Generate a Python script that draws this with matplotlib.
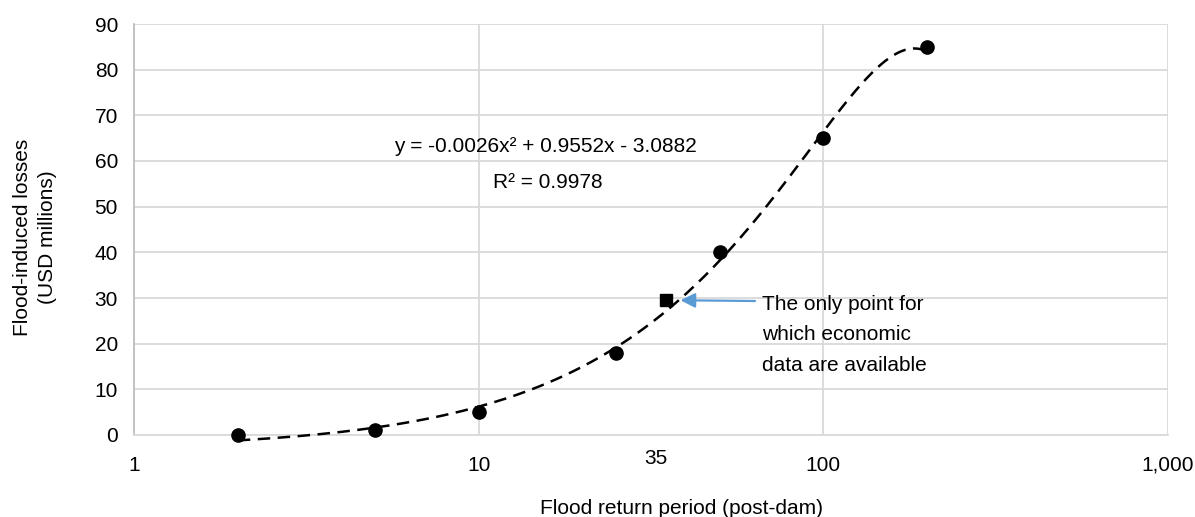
import numpy as np
import matplotlib.pyplot as plt

plt.rcParams['font.family'] = ['Liberation Sans', 'DejaVu Sans']

# Flood return periods (years) and modelled losses (USD millions)
return_periods = [2, 5, 10, 25, 50, 100, 200]
losses = [0, 1, 5, 18, 40, 65, 85]

# The single observation backed by economic data
econ_period = [35]
econ_loss = [29.5]

# Quadratic trendline coefficients (a*x^2 + b*x + c)
coef_a, coef_b, coef_c = -0.0026, 0.9552, -3.0882
r_squared = 0.9978

x_ticks = [1, 10, 100, 1000]
x_tick_labels = ['1', '10', '100', '1,000']
y_ticks = list(range(0, 91, 10))

FS = 15
W, H = 1195, 517
AX_L, AX_R, AX_T, AX_B = 134, 1168, 24, 435

fig = plt.figure(figsize=(W / 100, H / 100), dpi=100)
ax = fig.add_axes([AX_L / W, 1 - AX_B / H, (AX_R - AX_L) / W, (AX_B - AX_T) / H])


def fx(px):
    return (px - AX_L) / (AX_R - AX_L)


def fy(py):
    return (AX_B - py) / (AX_B - AX_T)


grid_col = '#d9d9d9'
ax.set_xscale('log')
ax.set_xlim(1, 1000)
ax.set_ylim(0, 90)
ax.set_xticks(x_ticks)
ax.set_xticklabels(x_tick_labels)
ax.minorticks_off()
ax.set_yticks(y_ticks)
ax.grid(True, color=grid_col, linewidth=1.3)
ax.set_axisbelow(True)
for side in ['top', 'right']:
    ax.spines[side].set_visible(False)
ax.spines['left'].set_color('#bfbfbf')
ax.spines['left'].set_linewidth(1.3)
ax.spines['bottom'].set_color(grid_col)
ax.spines['bottom'].set_linewidth(1.3)
ax.tick_params(axis='x', length=0, pad=15, labelsize=FS)
ax.tick_params(axis='y', length=0, pad=11.5, labelsize=FS)

# trendline evaluated on a linear x grid; it dips just under zero at x=2
xs = np.linspace(min(return_periods), max(return_periods), 400)
ys = coef_a * xs ** 2 + coef_b * xs + coef_c
ax.plot(xs, ys, color='black', linewidth=1.8, dashes=(5, 3), zorder=3,
        clip_on=False)

ax.plot(return_periods, losses, 'o', color='black', markersize=9.5, zorder=4,
        clip_on=False)
ax.plot(econ_period, econ_loss, 's', color='black', markersize=8.5, zorder=4)

ax.text(fx(545), fy(147), f'y = {coef_a}x² + {coef_b}x - {abs(coef_c)}',
        transform=ax.transAxes, fontsize=FS, ha='center', va='center')
ax.text(fx(548), fy(183), f'R² = {r_squared}',
        transform=ax.transAxes, fontsize=FS, ha='center', va='center')

ax.annotate('', xy=(econ_period[0] * 1.1, econ_loss[0]), xycoords='data',
            xytext=(fx(755), fy(301)), textcoords='axes fraction',
            arrowprops=dict(arrowstyle='-|>', color='#5b9bd5', lw=1.6,
                            mutation_scale=22, shrinkA=0, shrinkB=0))
ax.text(fx(762), fy(335), 'The only point for\nwhich economic\ndata are available',
        transform=ax.transAxes, fontsize=FS, ha='left', va='center',
        linespacing=1.75)

# extra label marking the return period of the observed event
ax.text(fx(656), fy(458), '35', transform=ax.transAxes, fontsize=FS,
        ha='center', va='center')

fig.text(682 / W, 1 - 508 / H, 'Flood return period (post-dam)', fontsize=FS,
         ha='center', va='center')
fig.text(35 / W, 1 - 237 / H, 'Flood-induced losses\n(USD millions)', fontsize=FS,
         ha='center', va='center', rotation=90, linespacing=1.45)

fig.savefig('out.png', dpi=100)
